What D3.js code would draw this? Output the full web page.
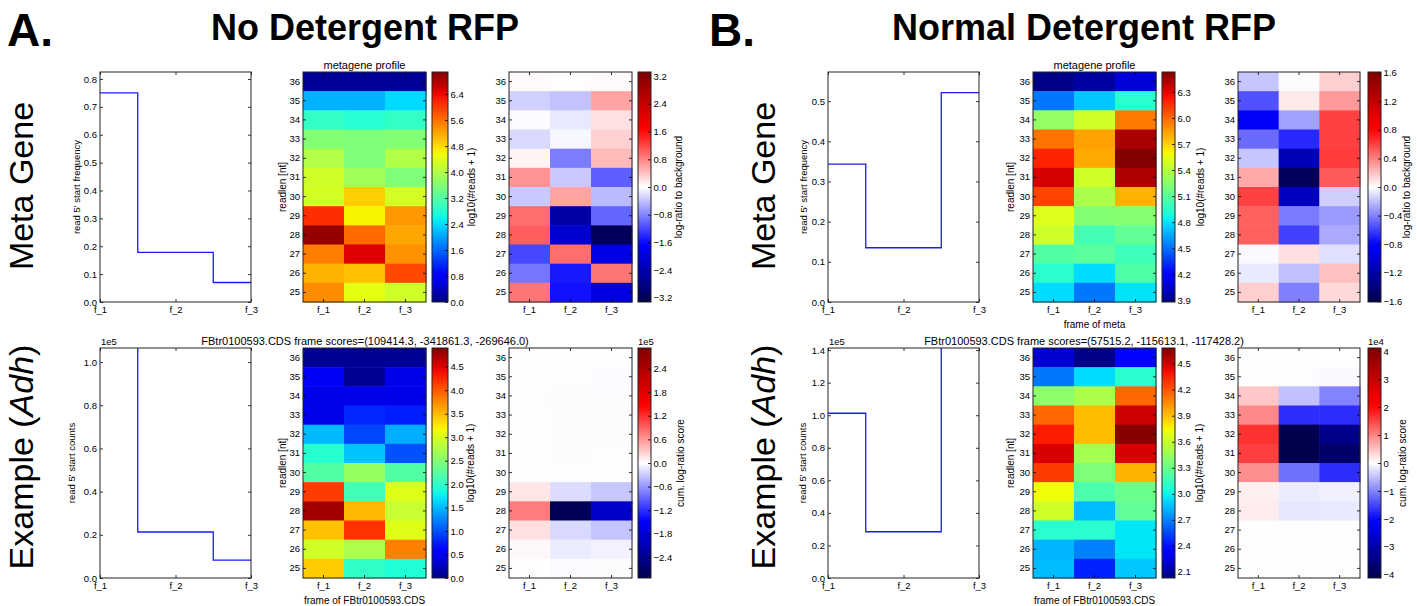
<!DOCTYPE html>
<html>
<head>
<meta charset="utf-8">
<script src="https://cdn.jsdelivr.net/npm/d3@7"></script>
<style>
  body { margin: 0; background: #fff; }
  svg text { font-family: "Liberation Sans", Arial, sans-serif; fill: #000; }
</style>
</head>
<body>
<div id="chart"></div>
<script>
// ---- data ----
const frames = ["f_1", "f_2", "f_3"];
const readLengths = [36, 35, 34, 33, 32, 31, 30, 29, 28, 27, 26, 25];

// No detergent
const noDetMetaFreq = [0.75, 0.178, 0.07];
const noDetAdhCounts = [118000, 21300, 8300];
const noDetMetaProfile = [
  [0.15, 0.15, 0.15], [2.12, 2.12, 2.4], [2.9, 2.8, 2.9], [3.6, 3.55, 3.6],
  [4.0, 3.55, 4.0], [4.25, 3.85, 3.55], [4.3, 4.9, 4.3], [6.1, 4.6, 5.3],
  [6.95, 5.65, 5.2], [5.5, 6.5, 5.35], [5.1, 5.0, 5.9], [5.4, 4.45, 4.25]
];
const noDetMetaRatio = [
  [0.03, 0.02, 0.03], [-0.3, -0.4, 0.6], [-0.03, -0.15, 0.2], [-0.25, -0.05, 0.3],
  [0.08, -0.85, 0.45], [0.7, -0.35, -1.05], [-0.35, 0.6, -0.45], [0.95, -2.5, -1.0],
  [1.05, -2.1, -3.2], [-1.2, 0.95, -1.9], [-0.9, -1.5, 0.9], [0.9, -1.55, -1.95]
];
const noDetAdhProfile = [
  [0.1, 0.1, 0.1], [0.5, 0.1, 0.45], [0.45, 0.45, 0.45], [0.45, 0.8, 0.75],
  [1.5, 0.95, 1.45], [1.95, 1.55, 1.0], [2.2, 2.6, 2.2], [4.15, 2.1, 3.05],
  [4.75, 3.5, 2.9], [3.45, 4.2, 3.05], [2.95, 2.75, 3.8], [3.4, 2.0, 1.9]
];
const noDetAdhScore = [
  [1000, 800, 500], [500, -500, -2500], [-1000, -1500, -2000], [-500, -1500, -1500],
  [-500, -1500, -1500], [-500, -1500, -1000], [-500, -1000, -1000], [15000, -20000, -32000],
  [75000, -285000, -188000], [18000, -22000, -34000], [4000, -11000, -8000], [1000, -3000, -2000]
];
const noDetFrameScores = "(109414.3, -341861.3, -269646.0)";

// Normal detergent
const normDetMetaFreq = [0.343, 0.135, 0.521];
const normDetAdhCounts = [101200, 28400, 152000];
const normDetMetaProfile = [
  [3.9, 3.96, 4.09], [4.52, 4.73, 4.94], [5.28, 5.47, 5.95], [5.97, 5.84, 6.43],
  [6.19, 5.82, 6.52], [6.33, 5.47, 6.42], [6.1, 5.36, 5.79], [5.52, 5.23, 5.24],
  [5.47, 5.02, 5.12], [5.07, 5.1, 5.0], [4.94, 4.78, 5.06], [4.78, 4.52, 4.8]
];
const normDetMetaRatio = [
  [-0.18, -0.01, 0.15], [-0.55, 0.07, 0.32], [-0.82, -0.3, 0.6], [-0.47, -0.68, 0.6],
  [-0.18, -1.12, 0.62], [0.27, -1.55, 0.52], [0.6, -1.1, -0.15], [0.5, -0.42, -0.32],
  [0.5, -0.6, -0.27], [-0.02, 0.1, -0.1], [-0.07, -0.2, 0.2], [0.15, -0.4, 0.12]
];
const normDetAdhProfile = [
  [2.22, 2.05, 2.37], [2.67, 2.93, 3.09], [3.41, 3.51, 4.15], [4.15, 3.91, 4.5],
  [4.36, 3.91, 4.66], [4.47, 3.49, 4.47], [4.28, 3.36, 3.94], [3.73, 3.2, 3.3],
  [3.62, 2.85, 3.27], [3.09, 3.09, 2.96], [2.83, 2.7, 2.96], [2.85, 2.45, 2.88]
];
const normDetAdhScore = [
  [100, 50, 0], [50, -200, -500], [4500, -5000, -10000], [9500, -17000, -17000],
  [16500, -41000, -34000], [15500, -41000, -38000], [9000, -11500, -17000], [1200, -1500, -1200],
  [1500, -2000, -1800], [100, -200, -100], [50, -100, -50], [50, -100, -50]
];
const normDetFrameScores = "(57515.2, -115613.1, -117428.2)";

// colour ranges and tick labels
const noDetMetaRange = [0, 7.08], noDetMetaTicks = [0, 0.8, 1.6, 2.4, 3.2, 4.0, 4.8, 5.6, 6.4];
const noDetRatioMax = 3.32, noDetRatioTicks = [-3.2, -2.4, -1.6, -0.8, 0, 0.8, 1.6, 2.4, 3.2];
const noDetAdhRange = [0, 4.9], noDetAdhTicks = [0, 0.5, 1, 1.5, 2, 2.5, 3, 3.5, 4, 4.5];
const noDetScoreMax = 292000, noDetScoreTicks = [-240000, -180000, -120000, -60000, 0, 60000, 120000, 180000, 240000];
const normDetMetaRange = [3.88, 6.53], normDetMetaTicks = [3.9, 4.2, 4.5, 4.8, 5.1, 5.4, 5.7, 6.0, 6.3];
const normDetRatioMax = 1.61, normDetRatioTicks = [-1.6, -1.2, -0.8, -0.4, 0, 0.4, 0.8, 1.2, 1.6];
const normDetAdhRange = [2.03, 4.68], normDetAdhTicks = [2.1, 2.4, 2.7, 3.0, 3.3, 3.6, 3.9, 4.2, 4.5];
const normDetScoreMax = 41100, normDetScoreTicks = [-40000, -30000, -20000, -10000, 0, 10000, 20000, 30000, 40000];

const noDetFreqTicks = [0, 0.1, 0.2, 0.3, 0.4, 0.5, 0.6, 0.7, 0.8];
const normDetFreqTicks = [0, 0.1, 0.2, 0.3, 0.4, 0.5];
const noDetCountTicks = [0, 20000, 40000, 60000, 80000, 100000];
const normDetCountTicks = [0, 20000, 40000, 60000, 80000, 100000, 120000, 140000];

// ---- colour maps ----
const jetR = d3.scaleLinear().domain([0, 0.35, 0.66, 0.89, 1]).range([0, 0, 1, 1, 0.5]).clamp(true);
const jetG = d3.scaleLinear().domain([0, 0.125, 0.375, 0.64, 0.91, 1]).range([0, 0, 1, 1, 0, 0]).clamp(true);
const jetB = d3.scaleLinear().domain([0, 0.11, 0.34, 0.65, 1]).range([0.5, 1, 1, 0, 0]).clamp(true);
function jet(t) { return d3.rgb(jetR(t) * 255, jetG(t) * 255, jetB(t) * 255).formatHex(); }
function jetScale(domain) {
  const n = d3.scaleLinear().domain(domain).range([0, 1]).clamp(true);
  return v => jet(n(v));
}
function seismicScale(m) {
  return d3.scaleLinear().domain([-m, -m / 2, 0, m / 2, m])
    .range(["#00004d", "#0000ff", "#ffffff", "#ff0000", "#800000"]).clamp(true);
}

// ---- svg ----
const width = 1417, height = 606;
const svg = d3.select("#chart").append("svg")
  .attr("width", width).attr("height", height);
const defs = svg.append("defs");
let gradId = 0;

const fmt1 = d3.format(".1f");
const tickFont = 9.5, labelFont = 10;

function styleAxis(g) {
  g.select(".domain").remove();
  g.selectAll(".tick line").attr("stroke", "#000").attr("stroke-width", 0.8);
  g.selectAll(".tick text").attr("font-size", tickFont).attr("fill", "#000");
}

function frame(g, x0, y0, w, h) {
  g.append("rect").attr("x", x0).attr("y", y0).attr("width", w).attr("height", h)
    .attr("fill", "none").attr("stroke", "#222").attr("stroke-width", 1);
}

// step line plot of 5' start counts per frame
function linePlot(c) {
  const g = svg.append("g");
  const x = d3.scalePoint().domain(frames).range([c.x0, c.x1]);
  const y = d3.scaleLinear().domain([0, c.yMax]).range([c.y1, c.y0]);
  const clipId = "clip" + (gradId++);
  defs.append("clipPath").attr("id", clipId).append("rect")
    .attr("x", c.x0).attr("y", c.y0).attr("width", c.x1 - c.x0).attr("height", c.y1 - c.y0);

  const line = d3.line().x((d, i) => x(frames[i])).y(d => y(d)).curve(d3.curveStep);
  g.append("path").datum(c.values).attr("d", line).attr("clip-path", `url(#${clipId})`)
    .attr("fill", "none").attr("stroke", "#1a1aff").attr("stroke-width", 1.3);

  g.append("g").attr("transform", `translate(${c.x0},0)`)
    .call(d3.axisLeft(y).tickValues(c.ticks).tickSize(-3).tickPadding(3).tickFormat(c.fmt))
    .call(styleAxis);
  g.append("g").attr("transform", `translate(${c.x1},0)`)
    .call(d3.axisRight(y).tickValues(c.ticks).tickSize(-3).tickFormat(""))
    .call(styleAxis);
  g.append("g").attr("transform", `translate(0,${c.y1})`)
    .call(d3.axisBottom(x).tickSize(-3).tickPadding(4))
    .call(styleAxis);
  g.append("g").attr("transform", `translate(0,${c.y0})`)
    .call(d3.axisTop(x).tickSize(-3).tickFormat(""))
    .call(styleAxis);
  frame(g, c.x0, c.y0, c.x1 - c.x0, c.y1 - c.y0);

  g.append("text").attr("transform", `translate(${c.labelX},${(c.y0 + c.y1) / 2}) rotate(-90)`)
    .attr("text-anchor", "middle").attr("font-size", 9.5).text(c.yLabel);
  if (c.exponent) {
    g.append("text").attr("x", c.x0 + 1).attr("y", c.y0 - 3).attr("font-size", tickFont).text(c.exponent);
  }
}

// heatmap of readlength x frame, with colour bar
function heatmap(c) {
  const g = svg.append("g");
  const x = d3.scaleBand().domain(frames).range([c.x0, c.x1]);
  const y = d3.scaleBand().domain(readLengths).range([c.y0, c.y1]);

  const cells = [];
  c.matrix.forEach((row, i) => row.forEach((v, j) => cells.push({ len: readLengths[i], f: frames[j], v: v })));
  g.selectAll("rect.cell").data(cells).enter().append("rect")
    .attr("class", "cell")
    .attr("x", d => x(d.f)).attr("y", d => y(d.len))
    .attr("width", x.bandwidth() + 0.5).attr("height", y.bandwidth() + 0.5)
    .attr("fill", d => c.color(d.v));

  g.append("g").attr("transform", `translate(${c.x0},0)`)
    .call(d3.axisLeft(y).tickSize(-3).tickPadding(3))
    .call(styleAxis);
  g.append("g").attr("transform", `translate(${c.x1},0)`)
    .call(d3.axisRight(y).tickSize(-3).tickFormat(""))
    .call(styleAxis);
  g.append("g").attr("transform", `translate(0,${c.y1})`)
    .call(d3.axisBottom(x).tickSize(-3).tickPadding(4))
    .call(styleAxis);
  g.append("g").attr("transform", `translate(0,${c.y0})`)
    .call(d3.axisTop(x).tickSize(-3).tickFormat(""))
    .call(styleAxis);
  frame(g, c.x0, c.y0, c.x1 - c.x0, c.y1 - c.y0);

  if (c.yLabel) {
    g.append("text").attr("transform", `translate(${c.yLabelX},${(c.y0 + c.y1) / 2}) rotate(-90)`)
      .attr("text-anchor", "middle").attr("font-size", labelFont).text(c.yLabel);
  }
  if (c.xLabel) {
    g.append("text").attr("x", (c.x0 + c.x1) / 2).attr("y", c.y1 + 26)
      .attr("text-anchor", "middle").attr("font-size", labelFont).text(c.xLabel);
  }

  // colour bar
  const cb = d3.scaleLinear().domain(c.cbDomain).range([c.y1, c.y0]);
  const id = "grad" + (gradId++);
  const grad = defs.append("linearGradient").attr("id", id)
    .attr("x1", 0).attr("y1", 1).attr("x2", 0).attr("y2", 0);
  d3.range(0, 1.0001, 0.02).forEach(t => {
    const v = c.cbDomain[0] + t * (c.cbDomain[1] - c.cbDomain[0]);
    grad.append("stop").attr("offset", t).attr("stop-color", c.color(v));
  });
  g.append("rect").attr("x", c.cbX0).attr("y", c.y0).attr("width", c.cbX1 - c.cbX0)
    .attr("height", c.y1 - c.y0).attr("fill", `url(#${id})`);
  g.append("g").attr("transform", `translate(${c.cbX1},0)`)
    .call(d3.axisRight(cb).tickValues(c.cbTicks).tickSize(-3).tickPadding(2.5).tickFormat(c.cbFmt))
    .call(styleAxis);
  frame(g, c.cbX0, c.y0, c.cbX1 - c.cbX0, c.y1 - c.y0);
  g.append("text").attr("transform", `translate(${c.cbLabelX},${(c.y0 + c.y1) / 2}) rotate(-90)`)
    .attr("text-anchor", "middle").attr("font-size", labelFont).text(c.cbLabel);
  if (c.cbExp) {
    g.append("text").attr("x", c.cbX0).attr("y", c.y0 - 3).attr("font-size", tickFont).text(c.cbExp);
  }
}

// ---- layout ----
const rowTop = [72, 302], rowBot = [348, 578];
const halves = [
  {
    letter: "A.", letterX: 7, title: "No Detergent RFP", titleX: 365, rowLabelX: 33,
    line: [100, 251], hm1: [303, 426], cb1: [432, 448], hm2: [509, 632], cb2: [638, 651],
    lineLabelX: [80, 75], hmLabelX: 286,
    metaFreq: noDetMetaFreq, adhCounts: noDetAdhCounts,
    freqMax: 0.825, freqTicks: noDetFreqTicks, countMax: 106500, countTicks: noDetCountTicks,
    metaProfile: noDetMetaProfile, metaRange: noDetMetaRange, metaTicks: noDetMetaTicks,
    metaRatio: noDetMetaRatio, ratioMax: noDetRatioMax, ratioTicks: noDetRatioTicks,
    adhProfile: noDetAdhProfile, adhRange: noDetAdhRange, adhTicks: noDetAdhTicks,
    adhScore: noDetAdhScore, scoreMax: noDetScoreMax, scoreTicks: noDetScoreTicks,
    scoreFmt: d => fmt1(d / 1e5), scoreExp: "1e5", frameScores: noDetFrameScores,
    metaXLabel: null,
    cbLabelX1: [475, 474], cbLabelX2: [682, 684]
  },
  {
    letter: "B.", letterX: 709, title: "Normal Detergent RFP", titleX: 1084, rowLabelX: 775,
    line: [828, 979], hm1: [1033, 1156], cb1: [1162, 1175], hm2: [1238, 1360], cb2: [1368, 1381],
    lineLabelX: [807, 806], hmLabelX: 1014,
    metaFreq: normDetMetaFreq, adhCounts: normDetAdhCounts,
    freqMax: 0.5725, freqTicks: normDetFreqTicks, countMax: 141300, countTicks: normDetCountTicks,
    metaProfile: normDetMetaProfile, metaRange: normDetMetaRange, metaTicks: normDetMetaTicks,
    metaRatio: normDetMetaRatio, ratioMax: normDetRatioMax, ratioTicks: normDetRatioTicks,
    adhProfile: normDetAdhProfile, adhRange: normDetAdhRange, adhTicks: normDetAdhTicks,
    adhScore: normDetAdhScore, scoreMax: normDetScoreMax, scoreTicks: normDetScoreTicks,
    scoreFmt: d => d3.format("d")(d / 1e4), scoreExp: "1e4", frameScores: normDetFrameScores,
    metaXLabel: "frame of meta",
    cbLabelX1: [1204, 1203], cbLabelX2: [1410, 1406]
  }
];

halves.forEach(h => {
  svg.append("text").attr("x", h.letterX).attr("y", 46).attr("font-size", 46)
    .attr("font-weight", "bold").text(h.letter);
  svg.append("text").attr("x", h.titleX).attr("y", 40).attr("font-size", 36)
    .attr("font-weight", "bold").attr("text-anchor", "middle").text(h.title);

  svg.append("text").attr("transform", `translate(${h.rowLabelX},${(rowTop[0] + rowTop[1]) / 2 - 1}) rotate(-90)`)
    .attr("text-anchor", "middle").attr("font-size", 34).text("Meta Gene");
  const ex = svg.append("text")
    .attr("transform", `translate(${h.rowLabelX},${(rowBot[0] + rowBot[1]) / 2 - 6}) rotate(-90)`)
    .attr("text-anchor", "middle").attr("font-size", 34);
  ex.append("tspan").text("Example (");
  ex.append("tspan").attr("font-style", "italic").text("Adh");
  ex.append("tspan").text(")");

  // meta gene row
  linePlot({
    x0: h.line[0], x1: h.line[1], y0: rowTop[0], y1: rowTop[1], values: h.metaFreq,
    yMax: h.freqMax, ticks: h.freqTicks, fmt: fmt1, labelX: h.lineLabelX[0],
    yLabel: "read 5' start frequency"
  });
  heatmap({
    x0: h.hm1[0], x1: h.hm1[1], y0: rowTop[0], y1: rowTop[1], matrix: h.metaProfile,
    color: jetScale(h.metaRange), yLabel: "readlen [nt]", yLabelX: h.hmLabelX,
    xLabel: h.metaXLabel,
    cbX0: h.cb1[0], cbX1: h.cb1[1], cbDomain: h.metaRange, cbTicks: h.metaTicks, cbFmt: fmt1,
    cbLabel: "log10(#reads + 1)", cbLabelX: h.cbLabelX1[0]
  });
  heatmap({
    x0: h.hm2[0], x1: h.hm2[1], y0: rowTop[0], y1: rowTop[1], matrix: h.metaRatio,
    color: seismicScale(h.ratioMax),
    cbX0: h.cb2[0], cbX1: h.cb2[1], cbDomain: [-h.ratioMax, h.ratioMax], cbTicks: h.ratioTicks, cbFmt: fmt1,
    cbLabel: "log-ratio to background", cbLabelX: h.cbLabelX2[0]
  });
  svg.append("text").attr("x", (h.hm1[0] + h.hm1[1]) / 2).attr("y", rowTop[0] - 3)
    .attr("text-anchor", "middle").attr("font-size", 11).text("metagene profile");

  // example row
  linePlot({
    x0: h.line[0], x1: h.line[1], y0: rowBot[0], y1: rowBot[1], values: h.adhCounts,
    yMax: h.countMax, ticks: h.countTicks, fmt: d => fmt1(d / 1e5), labelX: h.lineLabelX[1],
    yLabel: "read 5' start counts", exponent: "1e5"
  });
  heatmap({
    x0: h.hm1[0], x1: h.hm1[1], y0: rowBot[0], y1: rowBot[1], matrix: h.adhProfile,
    color: jetScale(h.adhRange), yLabel: "readlen [nt]", yLabelX: h.hmLabelX,
    xLabel: "frame of FBtr0100593.CDS",
    cbX0: h.cb1[0], cbX1: h.cb1[1], cbDomain: h.adhRange, cbTicks: h.adhTicks, cbFmt: fmt1,
    cbLabel: "log10(#reads + 1)", cbLabelX: h.cbLabelX1[1]
  });
  heatmap({
    x0: h.hm2[0], x1: h.hm2[1], y0: rowBot[0], y1: rowBot[1], matrix: h.adhScore,
    color: seismicScale(h.scoreMax),
    cbX0: h.cb2[0], cbX1: h.cb2[1], cbDomain: [-h.scoreMax, h.scoreMax], cbTicks: h.scoreTicks, cbFmt: h.scoreFmt,
    cbLabel: "cum. log-ratio score", cbLabelX: h.cbLabelX2[1], cbExp: h.scoreExp
  });
  svg.append("text").attr("x", h.titleX).attr("y", rowBot[0] - 3)
    .attr("text-anchor", "middle").attr("font-size", 11)
    .text("FBtr0100593.CDS frame scores=" + h.frameScores);
});
</script>
</body>
</html>
